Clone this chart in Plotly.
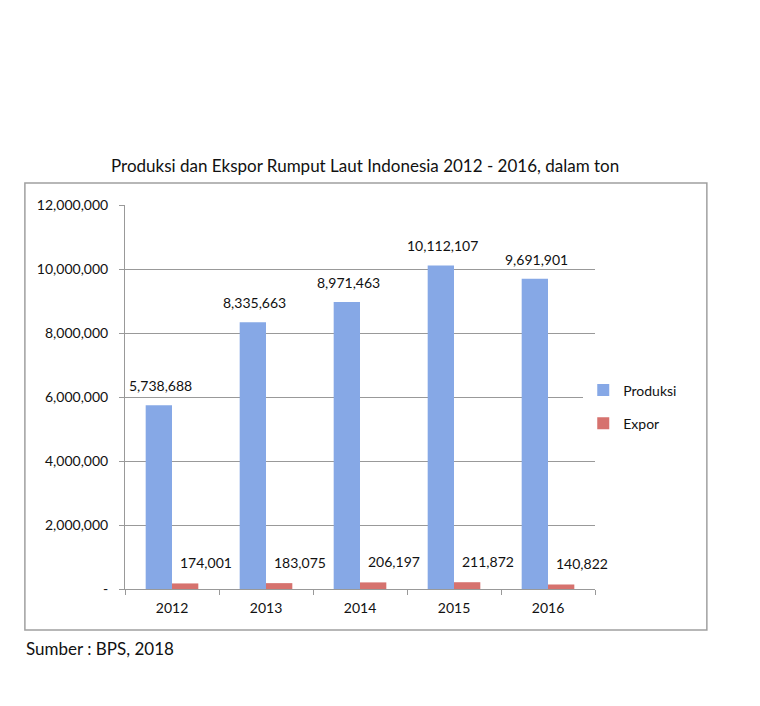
import plotly.graph_objects as go

years = ['2012', '2013', '2014', '2015', '2016']
produksi = [5738688, 8335663, 8971463, 10112107, 9691901]
expor = [174001, 183075, 206197, 211872, 140822]
ytick_vals = [0, 2000000, 4000000, 6000000, 8000000, 10000000, 12000000]
ytick_text = ['-', '2,000,000', '4,000,000', '6,000,000', '8,000,000', '10,000,000', '12,000,000']

font = 'Lato, Open Sans, sans-serif'

fig = go.Figure()
fig.add_trace(go.Bar(x=years, y=produksi, name='Produksi', legendgroup='p',
                     marker=dict(color='#86a8e6', line=dict(width=0))))
fig.add_trace(go.Bar(x=years, y=expor, name='Expor', legendgroup='e',
                     marker=dict(color='#d6726e', line=dict(width=0))))

# data labels (excel style, sitting a bit above the bars)
# category axis: annotation x given as the category index
for i, (p, e) in enumerate(zip(produksi, expor)):
    fig.add_annotation(x=i, y=p, text=f'{p:,}', showarrow=False, xshift=-12,
                       yshift=9, yanchor='bottom', font=dict(size=14, color='#111'))
    fig.add_annotation(x=i, y=e, text=f'{e:,}', showarrow=False, xshift=34,
                       yshift=10, yanchor='bottom', font=dict(size=14, color='#111'))

fig.add_annotation(text='Produksi dan Ekspor Rumput Laut Indonesia 2012 - 2016, dalam ton',
                   xref='paper', yref='paper', x=0.51, y=1.102, yanchor='middle',
                   showarrow=False, font=dict(size=17, color='#111'))
fig.add_annotation(text='Sumber : BPS, 2018', xref='paper', yref='paper',
                   x=-0.215, y=-0.154, xanchor='left', yanchor='middle',
                   showarrow=False, font=dict(size=17, color='#111'))

# outer chart frame
fig.add_shape(type='rect', xref='paper', yref='paper', x0=-0.213, x1=1.238,
              y0=-0.107, y1=1.057, line=dict(color='#a0a0a0', width=1.5))

fig.update_layout(
    width=760, height=706,
    margin=dict(l=117, r=173, t=197, b=125),
    paper_bgcolor='white', plot_bgcolor='white',
    font=dict(family=font, size=14, color='#111'),
    barmode='group', bargap=0.44, bargroupgap=0,
    showlegend=True,
    legend=dict(x=0.975, y=0.474, xanchor='left', yanchor='middle',
                tracegroupgap=12, font=dict(size=14), itemwidth=30),
)
fig.update_xaxes(type='category', range=[-0.5, len(years) - 0.5],
                 showline=True, linecolor='#999', linewidth=1,
                 ticks='outside', tickson='boundaries', ticklen=5, tickcolor='#999',
                 ticklabelstandoff=6, tickfont=dict(size=14))
fig.update_yaxes(range=[0, 12000000], tickvals=ytick_vals, ticktext=ytick_text,
                 showgrid=True, gridcolor='#999999', gridwidth=1,
                 showline=True, linecolor='#999', linewidth=1, ticks='outside',
                 ticklen=5, tickcolor='#999', zeroline=False,
                 ticklabelstandoff=8, tickfont=dict(size=14))

fig.write_html('out.html')
